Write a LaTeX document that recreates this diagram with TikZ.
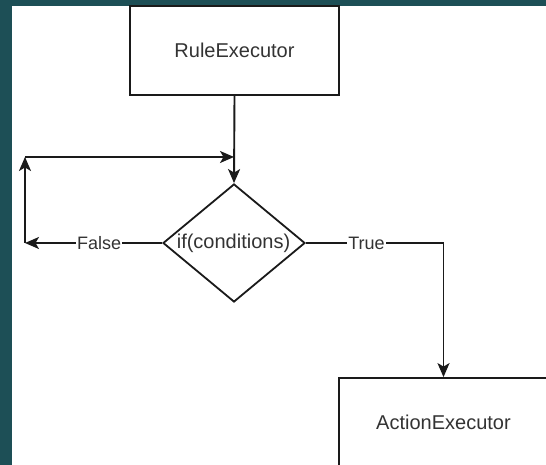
\documentclass[tikz,border=0pt]{standalone}
\usepackage{fontspec}
\setmainfont{Liberation Sans}
\usetikzlibrary{shapes.geometric,arrows.meta}
\definecolor{bgteal}{HTML}{1D4F56}
\definecolor{txt}{HTML}{333333}
\definecolor{ln}{HTML}{1A1A1A}
\tikzset{
  boxnode/.style={draw=ln,line width=1.8pt,fill=white,minimum width=209pt,minimum height=89pt,inner sep=0pt,text=txt,font=\fontsize{20}{24}\selectfont},
  dianode/.style={draw=ln,line width=1.8pt,shape=diamond,minimum width=142pt,minimum height=118pt,inner sep=0pt},
  diatext/.style={text=txt,font=\fontsize{20}{24}\selectfont,inner sep=0pt},
  conn/.style={draw=ln,line width=1.9pt},
  arr/.style={conn,-{Stealth[length=14pt,width=12pt,inset=3.5pt]}},
  elabel/.style={fill=white,text=txt,font=\fontsize{18}{22}\selectfont,inner sep=1pt}
}
\begin{document}
\begin{tikzpicture}[x=1pt,y=1pt]
\useasboundingbox (0,0) rectangle (546,465);
\fill[bgteal] (0,0) rectangle (546,465);
\fill[white] (12,0) rectangle (546,459);
\node[boxnode] (rule) at (234.5,414.5) {RuleExecutor};
\node[dianode] (dia) at (234,222) {};
\node[diatext] (cond) at (233.5,222) {if(conditions)};
\node[boxnode] (act) at (443.5,42.5) {ActionExecutor};
\coordinate (fl) at (25,222);
\coordinate (lt) at (25,308);
\coordinate (mj) at (234,308);
\draw[arr] (rule.south) -- (dia.north);
\draw[arr] (dia.west) -- node[elabel,pos=0.46] (flab) {False} (fl);
\draw[arr] (fl) -- (lt);
\draw[arr] (lt) -- (mj);
\draw[arr] (dia.east) -| node[elabel,pos=0.22] (tlab) {True} (act.north);
\end{tikzpicture}
\end{document}
